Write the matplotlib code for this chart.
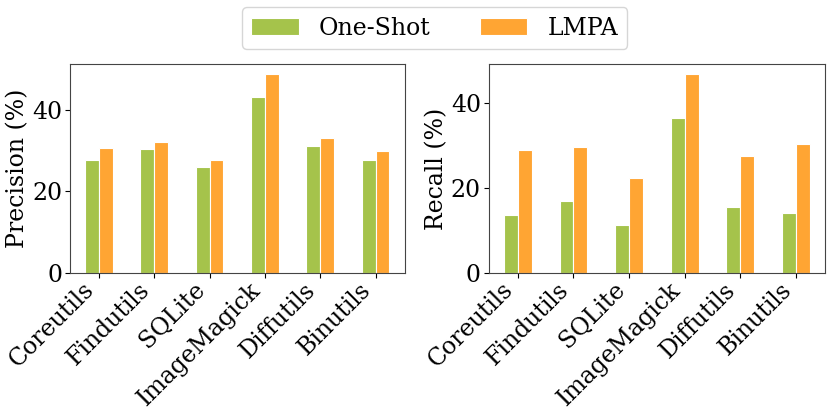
import numpy as np
import matplotlib
matplotlib.use("Agg")
import matplotlib.pyplot as plt

plt.rcParams['font.family'] = 'DejaVu Serif'

projects = ["Coreutils", "Findutils", "SQLite", "ImageMagick", "Diffutils", "Binutils"]
precision_oneshot = [27.8, 30.3, 26.1, 43.1, 31.0, 27.7]
precision_lmpa = [30.7, 32.2, 27.7, 48.8, 33.2, 30.0]
recall_oneshot = [13.7, 17.0, 11.4, 36.5, 15.5, 14.0]
recall_lmpa = [29.0, 29.7, 22.3, 46.8, 27.6, 30.4]

GREEN = "#a5c34b"
ORANGE = "#ffa533"
W = 0.25
FS = 17

fig = plt.figure(figsize=(8.31, 4.17), dpi=100)
ax1 = fig.add_axes([0.084, 0.345, 0.403, 0.502])
ax2 = fig.add_axes([0.588, 0.345, 0.405, 0.502])

x = np.arange(len(projects))
for ax, a, b, lab in [(ax1, precision_oneshot, precision_lmpa, "Precision (%)"),
                      (ax2, recall_oneshot, recall_lmpa, "Recall (%)")]:
    ax.bar(x - W / 2, a, W, color=GREEN, edgecolor="white", linewidth=0.8, label="One-Shot")
    ax.bar(x + W / 2, b, W, color=ORANGE, edgecolor="white", linewidth=0.8, label="LMPA")
    ax.set_xticks(x)
    ax.set_xticklabels(projects, rotation=45, ha="right", fontsize=FS)
    ax.tick_params(axis="x", pad=0)
    ax.set_yticks([0, 20, 40])
    ax.tick_params(axis="y", labelsize=FS, pad=2)
    ax.set_ylabel(lab, fontsize=FS, labelpad=2)
    for s in ax.spines.values():
        s.set_color("#444444")

handles, labels = ax1.get_legend_handles_labels()
fig.legend(handles, labels, loc="upper center", bbox_to_anchor=(0.523, 1.011), ncol=2,
           fontsize=FS, columnspacing=2.1, handletextpad=0.85)

fig.savefig("out.png", dpi=100)
